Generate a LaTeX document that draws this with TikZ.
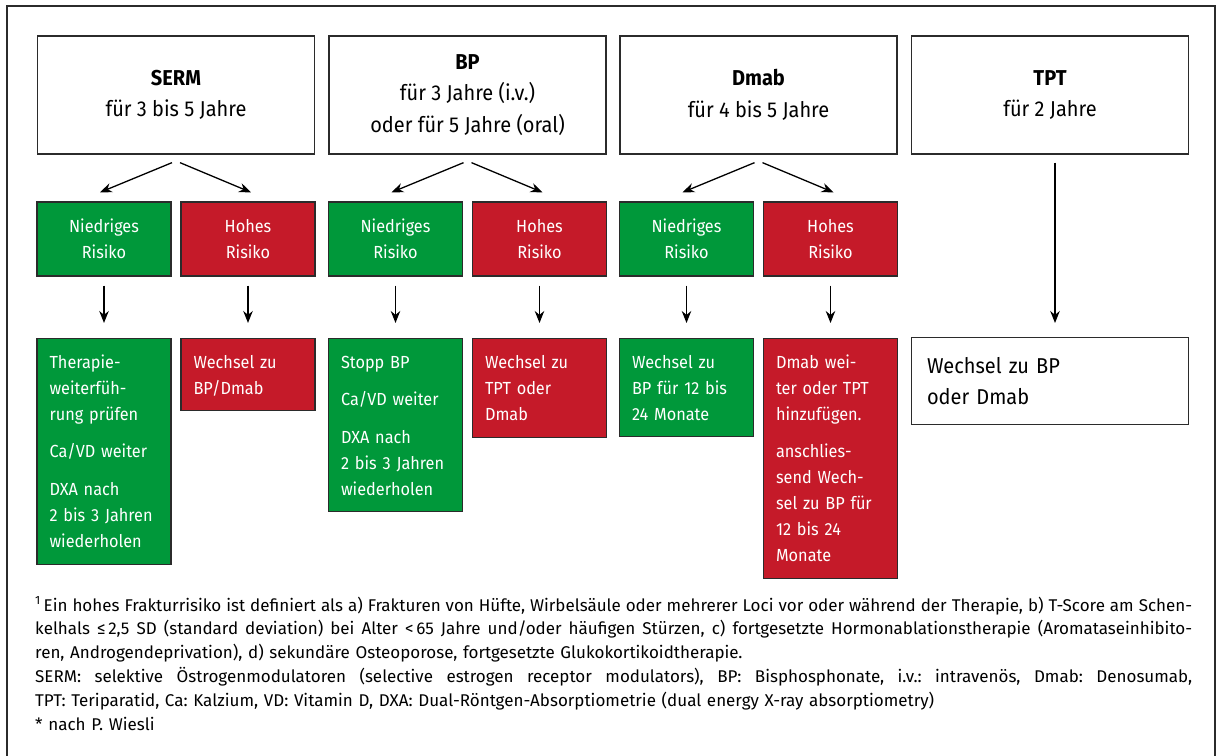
\documentclass[tikz,border=0pt]{standalone}
\usepackage{fontspec}
\setmainfont{Fira Sans}
\newfontfamily\boxfont[FakeStretch=0.93]{Fira Sans}
\usetikzlibrary{arrows.meta,calc}
\definecolor{mgreen}{HTML}{00983A}
\definecolor{mred}{HTML}{C51A29}
\definecolor{edge}{HTML}{2B2B2B}
\hbadness=10000
\hfuzz=20pt
\frenchspacing
\newcommand\fullline[1]{\leavevmode\hbox to 1157pt{\spaceskip=0pt\xspaceskip=0pt #1}}
\begin{document}
\begin{tikzpicture}[x=1pt,y=-1pt,
  topbox/.style={draw=edge,line width=1.3pt,fill=white,minimum width=277pt,minimum height=118pt,align=center,inner sep=0pt,font=\boxfont\fontsize{21.5}{31.5}\selectfont},
  riskbox/.style={draw=edge,line width=1.3pt,minimum width=134pt,minimum height=74pt,align=center,inner sep=0pt,text=white,font=\boxfont\fontsize{17.5}{26}\selectfont},
  lowc/.style={fill=mgreen},
  highc/.style={fill=mred},
  resbox/.style={draw=edge,line width=1.3pt,minimum width=134pt,inner sep=0pt,anchor=north},
  restext/.style={anchor=base west,inner sep=0pt,text width=124pt,align=left,text=white,font=\boxfont\fontsize{17.5}{26}\selectfont},
  arr/.style={-{Stealth[length=12pt,width=9.5pt]},line width=1.3pt,black},
]
\fill[white] (0,0) rectangle (1218,755);
\useasboundingbox (0,0) rectangle (1218,755);
\clip (0,0) rectangle (1218,755);
\draw[edge,line width=1.5pt] (7,770) -- (7,6) -- (1215,6) -- (1215,770);

% top boxes
\node[topbox] (serm) at (176,95) {\textbf{SERM}\\für 3 bis 5 Jahre};
\node[topbox] (bp) at (467.5,95) {\textbf{BP}\\für 3 Jahre (i.v.)\\oder für 5 Jahre (oral)};
\node[topbox] (dmab) at (758.5,95) {\textbf{Dmab}\\für 4 bis 5 Jahre};
\node[topbox] (tpt) at (1050,95) {\textbf{TPT}\\für 2 Jahre};

% risk boxes
\node[riskbox,lowc] (sl) at (104,239) {Niedriges\\Risiko};
\node[riskbox,highc] (sh) at (248,239) {Hohes\\Risiko};
\node[riskbox,lowc] (bl) at (395.5,239) {Niedriges\\Risiko};
\node[riskbox,highc] (bh) at (539.5,239) {Hohes\\Risiko};
\node[riskbox,lowc] (dl) at (686.5,239) {Niedriges\\Risiko};
\node[riskbox,highc] (dh) at (830.5,239) {Hohes\\Risiko};

% result boxes
\node[resbox,lowc,minimum height=226pt] (slr) at (104,338) {};
\node[resbox,highc,minimum height=72pt] (shr) at (248,338) {};
\node[resbox,lowc,minimum height=173pt] (blr) at (395.5,338) {};
\node[resbox,highc,minimum height=99pt] (bhr) at (539.5,338) {};
\node[resbox,lowc,minimum height=98pt] (dlr) at (686.5,338) {};
\node[resbox,highc,minimum height=240pt] (dhr) at (830.5,338) {};
\node[resbox,fill=white,minimum width=277pt,minimum height=87pt] (tr) at (1050,337) {};

% result texts
\node[restext] (slt) at ([xshift=13pt,yshift=-30pt]slr.north west) {Therapie-\\weiterfüh-\\rung prüfen\\[11.5pt]Ca/VD weiter\\[11.5pt]DXA nach\\2 bis 3 Jahren\\wiederholen};
\node[restext] (sht) at ([xshift=13pt,yshift=-30pt]shr.north west) {Wechsel zu\\BP/Dmab};
\node[restext] (blt) at ([xshift=13pt,yshift=-30pt]blr.north west) {Stopp BP\\[11.5pt]Ca/VD weiter\\[11.5pt]DXA nach\\2 bis 3 Jahren\\wiederholen};
\node[restext] (bht) at ([xshift=13pt,yshift=-30pt]bhr.north west) {Wechsel zu\\TPT oder\\Dmab};
\node[restext] (dlt) at ([xshift=13pt,yshift=-30pt]dlr.north west) {Wechsel zu\\BP für 12 bis\\24 Monate};
\node[restext] (dht) at ([xshift=13pt,yshift=-30pt]dhr.north west) {Dmab wei-\\ter oder TPT\\hinzufügen.\\[11.5pt]anschlies-\\send Wech-\\sel zu BP für\\12 bis 24\\Monate};
\node[anchor=base west,inner sep=0pt,text width=240pt,align=left,font=\boxfont\fontsize{21.5}{31}\selectfont] (trt) at ([xshift=16pt,yshift=-36pt]tr.north west) {Wechsel zu BP\\oder Dmab};

% arrows
\draw[arr] ([xshift=-4pt,yshift=-8pt]serm.south) -- ([xshift=-4pt,yshift=9pt]sl.north);
\draw[arr] ([xshift=4pt,yshift=-8pt]serm.south) -- ([xshift=3pt,yshift=9pt]sh.north);
\draw[arr] ([xshift=-4pt,yshift=-8pt]bp.south) -- ([xshift=-4pt,yshift=9pt]bl.north);
\draw[arr] ([xshift=4pt,yshift=-8pt]bp.south) -- ([xshift=3pt,yshift=9pt]bh.north);
\draw[arr] ([xshift=-4pt,yshift=-8pt]dmab.south) -- ([xshift=-4pt,yshift=9pt]dl.north);
\draw[arr] ([xshift=4pt,yshift=-8pt]dmab.south) -- ([xshift=3pt,yshift=9pt]dh.north);
\foreach \a/\b in {sl/slr,sh/shr,bl/blr,bh/bhr,dl/dlr,dh/dhr}{
  \draw[arr] ([yshift=-9pt]\a.south) -- ([yshift=15pt]\b.north);
}
\draw[arr] ([xshift=5pt,yshift=-8pt]tpt.south) -- ([xshift=5pt,yshift=14pt]tr.north);

% footnote
\node[anchor=base west,inner sep=0pt,text width=1157pt,align=left,font=\fontsize{17}{23.8}\selectfont\frenchspacing] (fn) at (35,611) {%
\fullline{\textsuperscript{1}\,Ein hohes Frakturrisiko ist definiert als a) Frakturen von Hüfte, Wirbelsäule oder mehrerer Loci vor oder während der Therapie, b) T-Score am Schen-}\\
\fullline{kelhals ≤\,2,5 SD (standard deviation) bei Alter <\,65 Jahre und/oder häufigen Stürzen, c) fortgesetzte Hormonablationstherapie (Aromataseinhibito-}\\
ren, Androgendeprivation), d) sekundäre Osteoporose, fortgesetzte Glukokortikoidtherapie.\\
\fullline{SERM: selektive Östrogenmodulatoren (selective estrogen receptor modulators), BP: Bisphosphonate, i.v.: intravenös, Dmab: Denosumab,}\\
TPT: Teriparatid, Ca: Kalzium, VD: Vitamin D, DXA: Dual-Röntgen-Absorptiometrie (dual energy X-ray absorptiometry)\\{}%
* nach P. Wiesli};
\end{tikzpicture}
\end{document}
